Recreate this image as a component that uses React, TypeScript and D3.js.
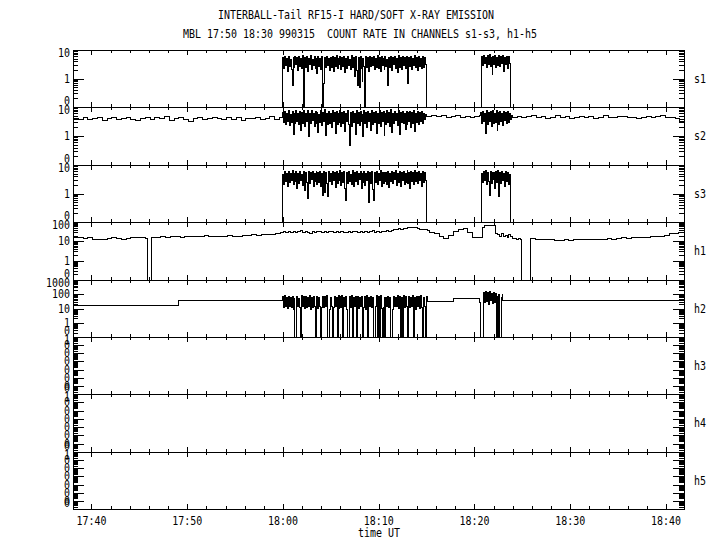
import { useEffect, useRef } from 'react';
import * as d3 from 'd3';

// run = [start minute after 17:00, step in minutes, values]
type Run = [number, number, number[]];

const channels = ['s1', 's2', 's3', 'h1', 'h2', 'h3', 'h4', 'h5'];
const yMin = [0.1, 0.1, 0.1, 0.1, 0.1, 1e-7, 1e-7, 1e-7];
const yMax = [10, 10, 10, 100, 1000, 1, 1, 1];
const timeTicks = [40, 50, 60, 70, 80, 90, 100];
const timeLabels = ['17:40', '17:50', '18:00', '18:10', '18:20', '18:30', '18:40'];
const timeDomain: [number, number] = [38.07, 101.88];

const title1 = 'INTERBALL-Tail RF15-I HARD/SOFT X-RAY EMISSION';
const title2 = 'MBL 17:50 18:30 990315  COUNT RATE IN CHANNELS s1-s3, h1-h5';

const s1Runs: Run[] = [
    [38.07, 0, [0]],
    [59.9, 0.1, [
        5.6, 2.4, 6.1, 3.0, 5.2, 1.9, 6.4, 2.7, 4.8, 2.2, 0.6, 5.9, 2.5, 6.3, 3.1, 5.5, 2.0, 6.0, 2.8, 5.1,
        2.3, 6.5, 0, 5.7, 2.6, 6.2, 1.8, 5.4, 3.2, 6.6, 2.1, 5.0, 2.9, 6.1, 2.4, 5.8, 1.6, 6.3, 2.7, 5.3,
        2.2, 6.0, 0, 0.7, 5.6, 2.5, 6.4, 3.0, 5.1, 2.0, 5.9, 2.6, 6.2, 1.9, 5.5, 2.8, 6.5, 2.3, 5.2, 3.1,
        6.1, 2.1, 5.7, 2.7, 6.3, 1.7, 5.4, 2.4, 6.0, 2.9, 5.0, 2.2, 6.6, 2.6, 5.8, 1.2, 6.2, 2.0, 0.6, 5.6,
        0.5, 6.1, 2.3, 0.8, 5.3, 2.8, 0, 6.4, 2.5, 5.9, 1.8, 6.0, 2.7, 5.5, 3.0, 6.3, 2.1, 5.2, 2.6, 6.5,
        2.4, 5.7, 1.9, 6.1, 2.9, 5.4, 2.2, 6.2, 2.8, 5.0, 0.6, 5.8, 2.5, 6.4, 2.0, 5.6, 3.1, 6.0, 2.3, 5.3,
        1.7, 6.6, 2.6, 5.9, 2.1, 6.2, 2.9, 5.5, 2.4, 6.1, 1.5, 0.7, 5.7, 2.7, 6.3, 2.2, 5.1, 3.0, 6.5, 2.5,
        5.8, 2.0, 6.0, 2.8, 5.4, 2.3, 6.4, 2.6, 5.9, 3.2,
    ]],
    [74.9, 0, [0]],
    [80.68, 0.1, [
        6.2, 2.9, 6.8, 3.4, 5.7, 2.6, 6.5, 3.1, 7.0, 2.8, 5.9, 1.4, 6.3, 3.3, 6.7,
        2.5, 5.6, 3.0, 6.9, 2.7, 6.1, 3.5, 6.6, 1.9, 5.8, 3.2, 6.4, 2.4, 6.0, 3.6,
    ]],
    [83.68, 0, [0]],
];

const s2Runs: Run[] = [
    [38.07, 0.5, [
        4.3, 4.0, 4.5, 3.9, 4.2, 4.6, 3.6, 4.1, 4.4, 3.8, 4.3, 4.7, 4.0, 3.5, 4.2, 4.5, 3.9, 4.4, 4.1, 4.8, 3.7, 4.2,
        4.6, 4.0, 3.4, 4.3, 4.5, 3.9, 4.1, 4.7, 4.2, 3.8, 4.4, 4.0, 4.6, 3.7, 4.3, 4.1, 4.5, 3.9, 4.2, 4.8, 4.0, 4.4,
    ]],
    [59.9, 0.1, [
        6.8, 3.0, 7.5, 2.6, 6.2, 3.4, 8.1, 2.4, 5.9, 3.1, 7.2, 1.2, 6.5, 2.8, 7.8, 3.3, 6.0, 2.5, 7.4, 1.6,
        6.7, 2.9, 8.0, 2.3, 6.3, 3.2, 7.6, 1.0, 6.1, 2.7, 7.9, 3.5, 6.4, 2.2, 7.3, 2.8, 6.9, 1.4, 5.8, 3.0,
        7.7, 2.4, 6.6, 3.3, 8.2, 1.1, 6.0, 2.6, 7.1, 2.9, 6.3, 2.1, 7.8, 3.4, 6.8, 1.3, 7.4, 2.5, 6.2, 3.1,
        8.0, 2.3, 6.5, 2.9, 7.2, 1.5, 6.1, 3.2, 7.9, 2.6, 0.5, 6.7, 2.2, 7.5, 3.0, 6.4, 1.2, 8.1, 2.7, 6.9,
        2.4, 7.3, 3.3, 6.0, 1.0, 7.7, 2.8, 6.6, 2.1, 7.1, 3.4, 6.3, 1.6, 8.0, 2.5, 6.8, 3.1, 7.4, 1.3, 6.2,
        2.9, 7.8, 2.3, 6.5, 3.2, 7.0, 1.1, 6.1, 2.6, 7.6, 3.0, 6.7, 2.2, 8.2, 1.4, 6.4, 2.8, 7.2, 3.5, 6.0,
        2.4, 7.9, 1.2, 6.9, 3.1, 7.3, 2.7, 6.3, 1.8, 7.5, 2.5, 6.6, 3.3, 7.1, 2.1, 6.8, 2.9, 7.7, 1.5, 6.2,
        3.0, 7.4, 2.6, 6.5, 3.4, 7.0, 2.8, 6.1, 3.9, 5.6, 4.8,
    ]],
    [75.0, 0.5, [5.0, 5.3, 4.8, 5.1, 4.6, 4.9, 5.2, 4.7, 5.0, 4.5, 4.8, 5.1]],
    [80.6, 0.1, [
        6.9, 2.8, 7.5, 3.2, 6.1, 1.3, 7.8, 2.5, 6.6, 3.4, 7.2, 2.2, 8.0, 2.9, 6.4, 3.1, 7.6,
        1.6, 6.8, 2.6, 7.3, 3.3, 6.2, 2.4, 7.0, 3.6, 6.5, 2.7, 7.4, 3.0, 6.0, 4.0, 5.2,
    ]],
    [83.9, 0.5, [
        4.6, 5.0, 4.4, 4.8, 5.2, 4.5, 4.9, 4.3, 4.7, 5.1, 4.4, 4.8, 4.2, 4.6, 5.0, 4.5, 4.9, 4.3, 4.7,
        5.3, 4.6, 4.4, 4.8, 5.0, 4.5, 4.7, 4.2, 4.6, 4.9, 4.4, 4.8, 5.1, 4.5, 4.7, 4.3, 3.2, 4.6,
    ]],
];

const s3Runs: Run[] = [
    [38.07, 0, [0]],
    [59.9, 0.1, [
        4.9, 2.2, 6.0, 2.8, 5.4, 1.9, 6.3, 2.5, 5.1, 3.0, 6.5, 2.1, 5.7, 2.7, 6.1, 1.6, 5.3, 2.4, 6.4, 2.9,
        5.0, 2.0, 6.2, 1.3, 5.6, 2.6, 0.7, 6.0, 2.3, 5.5, 3.1, 6.3, 1.8, 5.2, 2.8, 6.6, 2.2, 5.8, 2.5, 6.1,
        1.9, 5.4, 0.9, 6.0, 1.1, 5.7, 2.4, 0.8, 6.2, 2.7, 5.1, 2.1, 6.4, 2.9, 5.6, 1.7, 6.0, 2.3, 5.3, 3.0,
        6.5, 2.0, 5.8, 2.6, 6.1, 1.5, 0.6, 5.5, 2.4, 6.3, 2.8, 5.0, 2.2, 6.6, 1.8, 5.9, 2.7, 6.2, 2.1, 5.4,
        3.1, 6.0, 1.6, 5.7, 2.5, 6.4, 2.0, 5.2, 2.9, 6.1, 0.5, 5.6, 2.3, 6.3, 1.4, 0.6, 5.8, 2.6, 6.0, 2.2,
        5.3, 3.0, 6.5, 1.9, 5.9, 2.4, 6.2, 2.8, 5.5, 2.1, 6.4, 1.7, 5.1, 2.7, 6.0, 2.3, 5.7, 3.2, 6.6, 2.0,
        5.4, 2.5, 6.1, 1.8, 5.8, 2.9, 6.3, 2.2, 5.2, 2.6, 7.0, 2.4, 5.9, 1.6, 6.2, 2.8, 5.5, 2.1, 6.5, 2.7,
        5.6, 2.3, 6.0, 3.0, 5.3, 1.9, 6.4, 2.5, 5.8, 2.9,
    ]],
    [74.9, 0, [0]],
    [80.68, 0.1, [
        5.4, 2.5, 6.2, 3.0, 6.6, 2.2, 5.8, 2.8, 0.9, 6.0, 2.4, 6.4, 3.1, 5.5, 1.6,
        6.1, 2.6, 6.7, 0.8, 5.9, 2.3, 6.3, 2.9, 5.2, 1.9, 6.0, 2.7, 5.6, 2.1, 4.8,
    ]],
    [83.68, 0, [0]],
];

const h1Runs: Run[] = [
    [38.07, 0.5, [16, 17, 15, 17, 14, 13, 14, 15, 16, 15, 14, 15, 16, 17, 16, 15]],
    [45.8, 0, [0]],
    [46.2, 0.5, [
        17, 16, 18, 17, 19, 18, 17, 19, 20, 18, 19, 21, 20, 19, 18, 20, 21, 19, 20, 22, 21, 23, 22, 24, 23, 25, 27, 30,
    ]],
    [60.0, 0.25, [
        34, 30, 36, 31, 35, 29, 33, 37, 30, 34, 32, 28, 35, 31, 33, 36, 30, 34, 29, 33, 35, 31, 34,
        30, 36, 32, 29, 34, 31, 35, 33, 30, 36, 32, 34, 29, 33, 37, 31, 35, 32, 36, 34, 38, 36,
    ]],
    [71.25, 0.25, [40, 44, 42, 47, 45, 50, 48, 52, 55, 57, 54, 50, 46, 44, 42, 40]],
    [75.25, 0.5, [30, 26, 20, 15, 22, 33, 44, 48, 30, 17, 16]],
    [80.75, 0.2, [55, 68, 72, 70, 74, 69, 66, 28, 24, 20, 26, 18, 22, 17, 25, 19, 15, 15, 14, 15, 14]],
    [84.86, 0, [0]],
    [85.8, 0.5, [
        15, 14, 13, 14, 13, 12, 12, 13, 12, 13, 13, 14, 14, 14, 13, 14, 15, 14, 15, 16, 15, 16, 17, 16, 17,
        18, 19, 20, 22, 26, 28, 30, 31,
    ]],
];

const h2Runs: Run[] = [
    [38.07, 0, [16.8]],
    [49.03, 0, [37.5]],
    [59.9, 0.1, [
        72, 12, 85, 14, 63, 11, 78, 15, 68, 13, 81, 10, 66, 0, 0, 75, 16, 59, 12, 0,
        83, 14, 70, 11, 77, 13, 62, 15, 86, 10, 69, 12, 74, 16, 0, 0, 80, 11, 65, 14,
        0, 13, 79, 12, 71, 15, 84, 0, 0, 10, 67, 14, 0, 12, 76, 16, 61, 0, 82, 11,
        73, 13, 88, 0, 64, 15, 78, 10, 0, 0, 70, 12, 85, 0, 66, 14, 75, 0, 81, 11,
        62, 16, 79, 0, 0, 13, 72, 10, 84, 0, 68, 15, 77, 12, 60, 0, 0, 14, 83, 0,
        71, 0, 86, 11, 0, 13, 74, 0, 65, 16, 80, 12, 69, 0, 0, 10, 78, 15, 63, 14,
        87, 11, 73, 0, 67, 0, 82, 13, 70, 16, 0, 0, 76, 12, 61, 14, 84, 0, 68, 10,
        79, 15, 72, 11, 85, 13, 0, 66, 14, 0, 74,
    ]],
    [75.0, 0, [31.9]],
    [77.8, 0, [54]],
    [80.5, 0.1, [30, 0, 0, 0, 150, 28, 170, 35, 140, 22, 160, 40, 130, 25, 155, 30, 120, 0, 90, 0, 110, 0, 0, 60, 120]],
    [82.9, 0, [37.5]],
];

const h3Runs: Run[] = [];
const h4Runs: Run[] = [];
const h5Runs: Run[] = [];

const allRuns = [s1Runs, s2Runs, s3Runs, h1Runs, h2Runs, h3Runs, h4Runs, h5Runs];

const buildSeries = (runs: Run[], end: number) => {
    const pts: [number, number][] = [];
    runs.forEach(([t0, dt, vals]) => vals.forEach((v, i) => pts.push([t0 + i * dt, v])));
    if (pts.length) pts.push([end, pts[pts.length - 1][1]]);
    return pts;
};

const FONT = '"DejaVu Sans Mono", "Liberation Mono", monospace';

const App = () => {
    const svgRef = useRef<SVGSVGElement>(null);

    useEffect(() => {
        if (!svgRef.current) return;
        const svg = d3.select(svgRef.current);
        svg.selectAll('*').remove();

        const left = 73, right = 684, top = 50, bottom = 509;
        const panelH = (bottom - top) / channels.length;

        const x = d3.scaleLinear().domain(timeDomain).range([left, right]);

        const addText = (t: string, px: number, py: number, anchor: string) =>
            svg.append('text')
                .attr('x', px)
                .attr('y', py)
                .attr('text-anchor', anchor)
                .attr('textLength', t.length * 6)
                .attr('lengthAdjust', 'spacingAndGlyphs')
                .style('font-family', FONT)
                .style('font-size', '12px')
                .style('white-space', 'pre')
                .attr('fill', '#000')
                .text(t);

        // titles
        addText(title1, 356, 19, 'middle');
        addText(title2, 360, 38, 'middle');

        const g = svg.append('g').attr('shape-rendering', 'crispEdges');

        channels.forEach((name, i) => {
            const y0 = Math.round(top + i * panelH);
            const y1 = Math.round(top + (i + 1) * panelH);
            const y = d3.scaleLog().domain([yMin[i], yMax[i]]).range([y1, y0]).clamp(true);

            // frame
            g.append('rect')
                .attr('x', left + 0.5).attr('y', y0 + 0.5)
                .attr('width', right - left).attr('height', y1 - y0)
                .attr('fill', 'none').attr('stroke', '#000');

            // time ticks on top and bottom of each panel
            for (let m = 40; m <= 100; m += 2) {
                const major = m % 10 === 0;
                const len = major ? 5 : 3;
                const px = Math.round(x(m)) + 0.5;
                g.append('line').attr('x1', px).attr('x2', px)
                    .attr('y1', y0).attr('y2', y0 + len).attr('stroke', '#000');
                g.append('line').attr('x1', px).attr('x2', px)
                    .attr('y1', y1).attr('y2', y1 - len).attr('stroke', '#000');
            }

            // log ticks on the left and right
            const k0 = Math.round(Math.log10(yMin[i]));
            const k1 = Math.round(Math.log10(yMax[i]));
            for (let k = k0; k <= k1; k++) {
                const base = Math.pow(10, k);
                const mult = k < k1 ? [1, 2, 3, 4, 5, 6, 7, 8, 9] : [1];
                mult.forEach(mv => {
                    const v = base * mv;
                    const py = Math.round(y(v)) + 0.5;
                    const len = mv === 1 ? 11 : 5;
                    g.append('line').attr('x1', left).attr('x2', left + len)
                        .attr('y1', py).attr('y2', py).attr('stroke', '#000');
                    g.append('line').attr('x1', right).attr('x2', right - len)
                        .attr('y1', py).attr('y2', py).attr('stroke', '#000');
                });
                // labels
                let ly = y(base) + 4;
                if (k === k1) ly += 3;
                if (k === k0) ly -= 6;
                const label = base >= 1 ? String(base) : '0';
                addText(label, 70, ly, 'end');
            }

            // channel name on the right
            addText(name, 694, (y0 + y1) / 2 + 4, 'start');

            // data
            const pts = buildSeries(allRuns[i], timeDomain[1]);
            if (pts.length) {
                const line = d3.line<[number, number]>()
                    .x(d => Math.round(x(d[0])) + 0.5)
                    .y(d => Math.round(y(Math.max(d[1], yMin[i]))) + 0.5)
                    .curve(d3.curveStepAfter);
                g.append('path')
                    .datum(pts)
                    .attr('d', line)
                    .attr('fill', 'none')
                    .attr('stroke', '#000')
                    .attr('stroke-width', 1);
            }
        });

        // bottom time labels
        timeTicks.forEach((m, j) => addText(timeLabels[j], x(m), 525, 'middle'));
        addText('time UT', 379, 537, 'middle');
    }, []);

    return (
        <svg
            ref={svgRef}
            width={720}
            height={550}
            style={{ position: 'absolute', left: 0, top: 0, background: '#fff' }}
        />
    );
};

export default App;
